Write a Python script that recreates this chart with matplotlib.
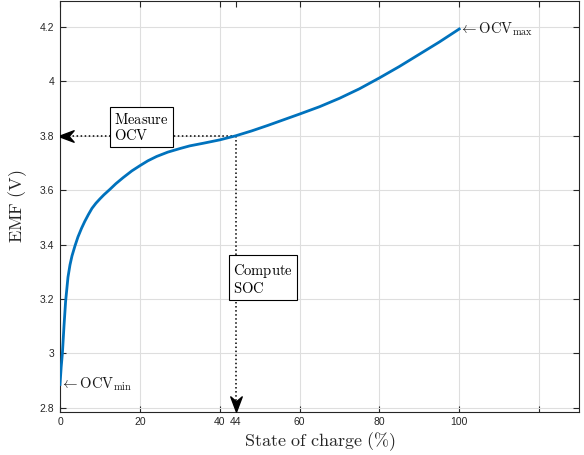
import matplotlib
matplotlib.use('Agg')
import matplotlib.pyplot as plt
from matplotlib.path import Path

plt.rcParams['mathtext.fontset'] = 'cm'
plt.rcParams['font.family'] = ['Liberation Sans', 'DejaVu Sans']

# EMF curve
soc = [0, 0.3, 0.6, 1.0, 1.4, 2.0, 2.5, 3.0, 3.75, 4.5, 5.4, 6.2, 7.1, 8.0, 9.0,
       10.0, 11.0, 12.5, 14.0, 15.8, 18.0, 20.0, 22.0, 24.2, 27.0, 30.0, 32.5,
       36.0, 40.0, 44.0, 48.0, 52.0, 56.0, 60.0, 65.0, 70.0, 75.0, 80.0, 85.0,
       90.0, 95.0, 100.0]
emf = [2.885, 2.95, 3.00, 3.10, 3.19, 3.28, 3.325, 3.358, 3.395, 3.428, 3.46,
       3.485, 3.51, 3.533, 3.552, 3.568, 3.583, 3.603, 3.624, 3.646, 3.671, 3.69,
       3.708, 3.724, 3.74, 3.753, 3.763, 3.773, 3.785, 3.80, 3.818, 3.838, 3.859,
       3.88, 3.907, 3.938, 3.973, 4.013, 4.055, 4.10, 4.145, 4.193]

soc_meas = 44
ocv_meas = 3.8

xticks = [0, 20, 40, 44, 60, 80, 100, 120]
xticklabels = ['0', '20', '40', '44', '60', '80', '100', '']
yticks = [2.8, 3.0, 3.2, 3.4, 3.6, 3.8, 4.0, 4.2]
yticklabels = ['2.8', '3', '3.2', '3.4', '3.6', '3.8', '4', '4.2']

fig = plt.figure(figsize=(5.84, 4.55), dpi=100)
ax = fig.add_axes([60 / 584, 1 - 411.7 / 455, 519 / 584, 410.7 / 455])

dark = '#262626'
ax.plot(soc, emf, color='#0072BD', lw=2, zorder=3, solid_joinstyle='round')

# dotted guide lines
ax.plot([soc_meas, 1.5], [ocv_meas, ocv_meas], ls=':', color='k', lw=1.1, zorder=2)
ax.plot([soc_meas, soc_meas], [ocv_meas, 2.81], ls=':', color='k', lw=1.1, zorder=2)

# MATLAB-like arrow heads
head = Path([(-1, 0), (1, 0.75), (0.35, 0), (1, -0.75), (-1, 0)],
            [Path.MOVETO, Path.LINETO, Path.LINETO, Path.LINETO, Path.CLOSEPOLY])
ax.plot([1.5], [ocv_meas], marker=head, ms=11, color='k', mec='k', zorder=4)
head_down = head.transformed(matplotlib.transforms.Affine2D().rotate_deg(90))
ax.plot([soc_meas], [2.815], marker=head_down, ms=11, color='k', mec='k', zorder=4)

box = dict(boxstyle='square,pad=0.3', fc='white', ec='k', lw=0.8)
ax.text(13.5, 3.831, '$\\mathrm{Measure}$\n$\\mathrm{OCV}$', fontsize=10.5,
        ha='left', va='center', bbox=box, zorder=5, linespacing=1.1)
ax.text(43.4, 3.274, '$\\mathrm{Compute}$\n$\\mathrm{SOC}$', fontsize=10.5,
        ha='left', va='center', bbox=box, zorder=5, linespacing=1.1)

ax.text(soc[-1], emf[-1], '$\\leftarrow\\mathrm{OCV}_{\\mathrm{max}}$', fontsize=10.5,
        ha='left', va='center', color='#1a1a1a')
ax.text(soc[0], emf[0], '$\\leftarrow\\mathrm{OCV}_{\\mathrm{min}}$', fontsize=10.5,
        ha='left', va='center', color='#1a1a1a')

ax.set_xlim(0, 130)
ax.set_ylim(2.785, 4.296)
ax.set_xticks(xticks)
ax.set_xticklabels(xticklabels)
ax.set_yticks(yticks)
ax.set_yticklabels(yticklabels)

ax.grid(True, color='#dedede', lw=0.8)
ax.set_axisbelow(True)
ax.get_xgridlines()[3].set_visible(False)

ax.tick_params(direction='in', length=4, width=0.8, colors=dark, labelsize=7.5,
               top=True, right=True, pad=4)
for s in ax.spines.values():
    s.set_color(dark)
    s.set_linewidth(0.8)

ax.set_xlabel('$\\mathrm{State\\ of\\ charge\\ (\\%)}$', fontsize=13, color=dark, labelpad=2)
ax.set_ylabel('$\\mathrm{EMF\\ (V)}$', fontsize=13, color=dark, labelpad=8)

fig.savefig('out.png', dpi=100)
